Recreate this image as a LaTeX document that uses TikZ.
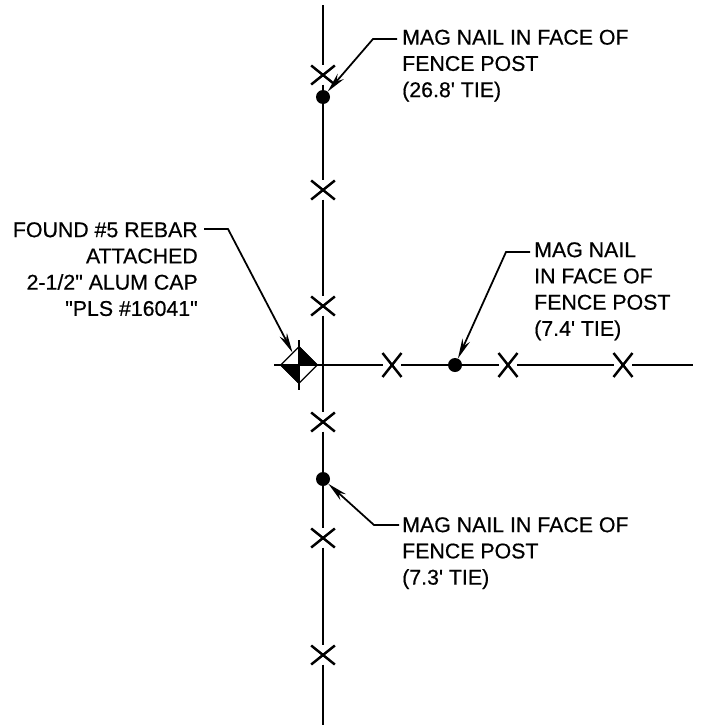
\documentclass[tikz,border=0pt]{standalone}
\usepackage{fontspec}
\newfontfamily\notefont[FakeBold=0.5]{Liberation Sans}
\usetikzlibrary{arrows.meta,shapes.geometric,shapes.misc}
\tikzset{
	fence/.style={line width=1.9pt},
	leader/.style={line width=1.5pt,-{Stealth[length=17pt,width=7pt]}},
	markv/.style={cross out,draw,line width=2.1pt,inner sep=0pt,outer sep=3pt,minimum width=0.5cm,minimum height=0.36cm},
	markh/.style={cross out,draw,line width=2.1pt,inner sep=0pt,outer sep=3.4pt,minimum width=0.33cm,minimum height=0.48cm},
	nail/.style={circle,fill,inner sep=0pt,minimum size=0.42cm},
	note/.style={anchor=north west,inner sep=0pt,align=left,font=\notefont\fontsize{18.2pt}{22.4pt}\selectfont},
}
\begin{document}
\begin{tikzpicture}[x=0.03cm,y=-0.03cm]
	%
	% Cadre
	\useasboundingbox (0,0) rectangle (703,726);
	%
	% Points de la cloture
	\coordinate (fenceTop) at (323,5);
	\coordinate (fenceBottom) at (323,725);
	\coordinate (fenceEnd) at (693,365);
	\coordinate (fenceCross) at (323,365);
	\coordinate (tickLeft) at (274,365);
	\coordinate (tickTop) at (299,340);
	\coordinate (tickBottom) at (299,390);
	\node[markv] (markA) at (323,75) {};
	\node[markv] (markB) at (323,190) {};
	\node[markv] (markC) at (323,306) {};
	\node[markv] (markD) at (323,422) {};
	\node[markv] (markE) at (323,538) {};
	\node[markv] (markF) at (323,655) {};
	\node[markh] (markG) at (392,365) {};
	\node[markh] (markH) at (508,365) {};
	\node[markh] (markI) at (623,365) {};
	\node[nail] (nailTop) at (323,97) {};
	\node[nail] (nailBottom) at (323,479) {};
	\node[nail] (nailRight) at (455,365) {};
	%
	% Cloture
	\draw[fence] (fenceTop) -- (markA);
	\draw[fence] (markA) -- (nailTop);
	\draw[fence] (nailTop) -- (markB);
	\draw[fence] (markB) -- (markC);
	\draw[fence] (markC) -- (fenceCross);
	\draw[fence] (fenceCross) -- (markD);
	\draw[fence] (markD) -- (nailBottom);
	\draw[fence] (nailBottom) -- (markE);
	\draw[fence] (markE) -- (markF);
	\draw[fence] (markF) -- (fenceBottom);
	\draw[fence] (tickLeft) -- (markG);
	\draw[fence] (markG) -- (nailRight);
	\draw[fence] (nailRight) -- (markH);
	\draw[fence] (markH) -- (markI);
	\draw[fence] (markI) -- (fenceEnd);
	%
	% Borne
	\node[diamond,draw,fill=white,line width=1pt,inner sep=0pt,minimum size=1.11cm] (rebar) at (299,365) {};
	\fill (rebar.north) -- (rebar.east) -- (rebar.center) -- cycle;
	\fill (rebar.south) -- (rebar.west) -- (rebar.center) -- cycle;
	\draw[line width=1pt] (tickTop) -- (tickBottom);
	\draw[line width=1pt] (tickLeft) -- (rebar.east);
	%
	% Textes
	\node[note] (noteTop) at (402,29.5) {MAG NAIL IN FACE OF\\FENCE POST\\(26.8' TIE)};
	\node[note,anchor=north east,align=right] (noteRebar) at (198,222) {FOUND \#5 REBAR\\ATTACHED\\2-1/2" ALUM CAP\\"PLS \#16041"};
	\node[note] (noteRight) at (534,242) {MAG NAIL\\IN FACE OF\\FENCE POST\\(7.4' TIE)};
	\node[note] (noteBottom) at (402,517) {MAG NAIL IN FACE OF\\FENCE POST\\(7.3' TIE)};
	%
	% Renvois
	\coordinate (bendTop) at (373,39);
	\coordinate (bendRebar) at (228,229);
	\coordinate (bendRight) at (506,252);
	\coordinate (bendBottom) at (374,525);
	\coordinate (startTop) at (397,39);
	\coordinate (startRebar) at (204,229);
	\coordinate (startRight) at (530,252);
	\coordinate (startBottom) at (399,525);
	\draw[leader] (startTop) -- (bendTop) -- (nailTop);
	\draw[leader] (startRebar) -- (bendRebar) -- (rebar);
	\draw[leader] (startRight) -- (bendRight) -- (nailRight);
	\draw[leader] (startBottom) -- (bendBottom) -- (nailBottom);
\end{tikzpicture}
\end{document}
